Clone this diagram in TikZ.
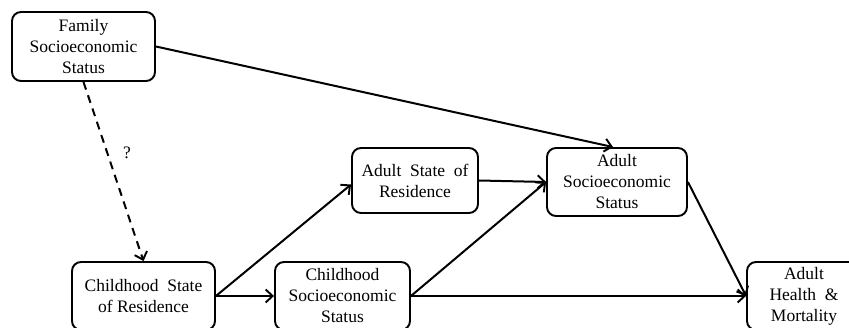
\documentclass[tikz,border=0pt]{standalone}
\usepackage{fontspec}
\setmainfont{Liberation Serif}
\usetikzlibrary{arrows.meta}
\begin{document}
\begin{tikzpicture}[x=1pt,y=-1pt,
  box/.style={draw,line width=1.9pt,rounded corners=9pt,align=center,
    font=\fontsize{17.5}{21}\selectfont,inner sep=0pt},
  conn/.style={line width=2pt,-{Straight Barb[length=7pt,width=13pt,line width=1.9pt]}}]
\useasboundingbox (0,0) rectangle (849,328);
\clip (0,0) rectangle (849,328);
\node[box,minimum width=143pt,minimum height=69pt] (fam) at (83.5,46.5) {Family\\Socioeconomic\\Status};
\node[box,minimum width=143pt,minimum height=68pt] (cst) at (143.5,296) {Childhood~~State\\of Residence};
\node[box,minimum width=135pt,minimum height=68pt] (cses) at (342.5,296) {Childhood\\Socioeconomic\\Status};
\node[box,minimum width=126pt,minimum height=65pt] (ast) at (415,180.5) {Adult~~State~~of\\Residence};
\node[box,minimum width=140pt,minimum height=68pt] (ases) at (617,182) {Adult\\Socioeconomic\\Status};
\node[box,minimum width=114pt,minimum height=68pt] (ahm) at (804,296) {Adult\\Health~~\&\\Mortality};
\node[font=\fontsize{17.5}{21}\selectfont] (q) at (127,153) {?};
\draw[conn] (fam.east) -- ([xshift=-4pt]ases.north);
\draw[conn,dash pattern=on 8pt off 6pt] (fam.south) -- (cst.north);
\draw[conn] (cst.east) -- ([yshift=-4pt]ast.west);
\draw[conn] (cst.east) -- (cses.west);
\draw[conn] (ast.east) -- (ases.west);
\draw[conn] (cses.east) -- (ases.west);
\draw[conn] (cses.east) -- (ahm.west);
\draw[conn] (ases.east) -- (ahm.west);
\end{tikzpicture}
\end{document}
